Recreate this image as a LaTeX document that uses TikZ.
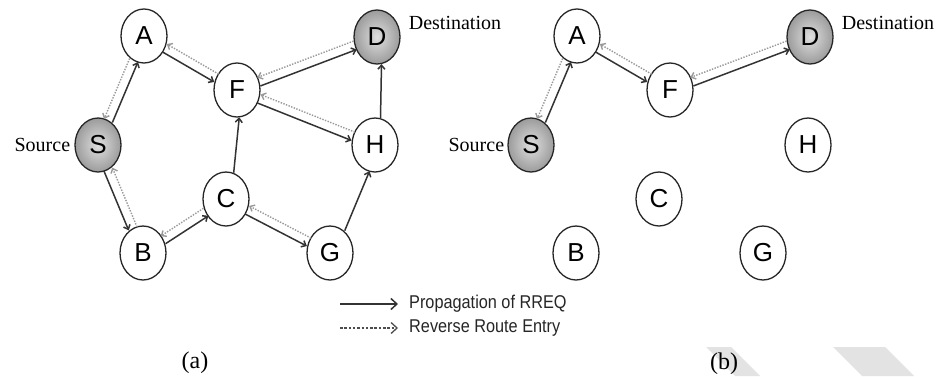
\documentclass[tikz,border=0pt]{standalone}
\usepackage{fontspec}
\setmainfont{Liberation Serif}
\setsansfont{Liberation Sans}
\newfontfamily\legfont[FakeStretch=0.88]{Liberation Sans}
\usetikzlibrary{arrows.meta,shapes.geometric,calc}

\tikzset{
  nd/.style={ellipse, draw=black!85, line width=1.3pt, minimum width=46pt,
    minimum height=54pt, inner sep=0pt, fill=white,
    font=\sffamily\fontsize{26}{26}\selectfont},
  sd/.style={ellipse, draw=black!85, line width=1.3pt, minimum width=46pt,
    minimum height=54pt, inner sep=0pt, inner color=gray!25, outer color=gray!78,
    font=\sffamily\fontsize{26}{26}\selectfont},
  fwd/.style={draw=black!80, line width=1.5pt, -{Straight Barb[length=4pt,width=7pt]}},
  rev/.style={draw=black!40, line width=1.4pt, dash pattern=on 1.4pt off 1.4pt,
    -{Straight Barb[length=4pt,width=7pt]}},
  lfwd/.style={draw=black!80, line width=1.5pt, -{Straight Barb[length=6pt,width=11pt]}},
  lrev/.style={draw=black!70, line width=1.3pt, dash pattern=on 2.5pt off 1.8pt,
    -{Straight Barb[length=6pt,width=11pt]}},
  lbl/.style={font=\fontsize{20}{20}\selectfont, inner sep=0pt},
  captxt/.style={font=\fontsize{24}{24}\selectfont, inner sep=0pt},
  leg/.style={font=\legfont\fontsize{18.5}{18.5}\selectfont, text=black!85, inner sep=0pt, anchor=west},
  wm/.style={fill=gray!22, draw=none}
}

% pair of forward (solid) and reverse (dotted) links
\newcommand{\bip}[4]{%
  \draw[fwd, shorten <=#3pt, shorten >=#4pt]
    ($(#1.center)!4.5pt!-90:(#2.center)$) -- ($(#2.center)!4.5pt!90:(#1.center)$);
  \draw[rev, shorten <=#4pt, shorten >=#3pt]
    ($(#2.center)!4.5pt!-90:(#1.center)$) -- ($(#1.center)!4.5pt!90:(#2.center)$);
}
% single forward link
\newcommand{\sgl}[4]{%
  \draw[fwd, shorten <=#3pt, shorten >=#4pt]
    ($(#1.center)!5pt!-90:(#2.center)$) -- ($(#2.center)!5pt!90:(#1.center)$);
}

\begin{document}
\begin{tikzpicture}[x=1pt,y=-1pt]
\useasboundingbox (0,0) rectangle (939,376);
\fill[white] (0,0) rectangle (939,376);

% watermark
\fill[wm] (706,347) -- (731,347) -- (760,376) -- (735,376) -- cycle;
\fill[wm] (833,347) -- (885,347) -- (914,376) -- (862,376) -- cycle;

% ---------- panel (a) ----------
\node[nd] (aA) at (144,36) {A};
\node[sd] (aD) at (377,37) {D};
\node[nd] (aF) at (237,90) {F};
\node[sd] (aS) at (98,145) {S};
\node[nd] (aH) at (375,145) {H};
\node[nd] (aC) at (226,199) {C};
\node[nd] (aB) at (143,253) {B};
\node[nd] (aG) at (330,253) {G};

\node[lbl, anchor=east] (asrc) at ([xshift=-4pt]aS.west) {Source};
\node[lbl, anchor=west] (adst) at ([xshift=8pt,yshift=14pt]aD.east) {Destination};

\bip{aS}{aA}{26.3}{26.3}
\bip{aA}{aF}{23.8}{23.8}
\bip{aF}{aD}{23.4}{23.4}
\bip{aF}{aH}{23.5}{23.5}
\bip{aS}{aB}{26.3}{26.3}
\bip{aB}{aC}{24.0}{24.0}
\bip{aC}{aG}{23.7}{23.7}
\sgl{aC}{aF}{26.9}{26.9}
\sgl{aH}{aD}{27}{27}
\sgl{aG}{aH}{26.3}{26.3}

% legend
\coordinate (l1s) at (340,304);
\coordinate (l1e) at (398,304);
\coordinate (l2s) at (340,328);
\coordinate (l2e) at (398,328);
\draw[lfwd] (l1s) -- (l1e);
\draw[lrev] (l2s) -- (l2e);
\node[leg] (lt1) at (409,304) {Propagation of RREQ};
\node[leg] (lt2) at (409,328) {Reverse Route Entry};

\node[captxt] (capa) at (195,363) {(a)};

% ---------- panel (b) ----------
\node[nd] (bA) at (577,36) {A};
\node[sd] (bD) at (810,37) {D};
\node[nd] (bF) at (670,90) {F};
\node[sd] (bS) at (531,145) {S};
\node[nd] (bH) at (808,145) {H};
\node[nd] (bC) at (659,199) {C};
\node[nd] (bB) at (576,253) {B};
\node[nd] (bG) at (763,253) {G};

\node[lbl, anchor=east] (bsrc) at ([xshift=-3pt]bS.west) {Source};
\node[lbl, anchor=west] (bdst) at ([xshift=8pt,yshift=14pt]bD.east) {Destination};

\bip{bS}{bA}{26.3}{26.3}
\bip{bA}{bF}{23.8}{23.8}
\bip{bF}{bD}{23.4}{23.4}

\node[captxt] (capb) at (724,364) {(b)};
\end{tikzpicture}
\end{document}
